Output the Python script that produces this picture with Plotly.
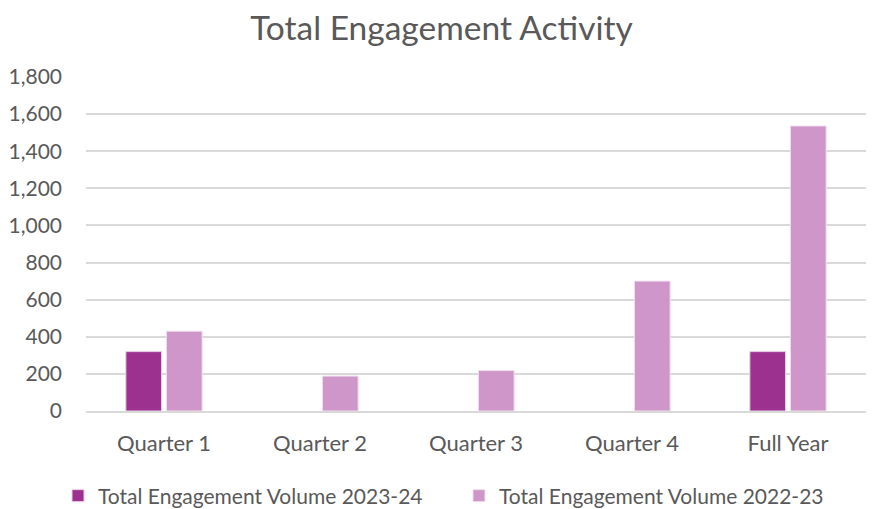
import plotly.graph_objects as go

categories = ["Quarter 1", "Quarter 2", "Quarter 3", "Quarter 4", "Full Year"]
vol_2023_24 = [320, None, None, None, 320]
vol_2022_23 = [430, 188, 218, 700, 1536]
series_names = ["Total Engagement Volume 2023-24", "Total Engagement Volume 2022-23"]
tick_vals = [0, 200, 400, 600, 800, 1000, 1200, 1400, 1600, 1800]

FONT = "Lato, Carlito, Calibri, sans-serif"
GREY = "#595959"

fig = go.Figure()
fig.add_trace(go.Bar(x=categories, y=vol_2023_24, name=series_names[0], legend="legend",
                     marker=dict(color="#9D3190", line=dict(color="#E9CFE6", width=1))))
fig.add_trace(go.Bar(x=categories, y=vol_2022_23, name=series_names[1], legend="legend2",
                     marker=dict(color="#CF97C9", line=dict(color="#F0DEEE", width=1))))

legend_style = dict(orientation="h", xref="container", yref="container",
                    xanchor="left", y=1 - 488 / 501, yanchor="middle",
                    font=dict(family=FONT, size=21, color=GREY), itemwidth=30)

fig.update_layout(
    width=867, height=501,
    paper_bgcolor="white", plot_bgcolor="white",
    margin=dict(l=78, r=9, t=69, b=98),
    title=dict(text="Total Engagement Activity", x=0.5, xanchor="center",
               y=1 - 20 / 501, yanchor="middle", automargin=False,
               font=dict(family=FONT, size=33.5, color=GREY)),
    barmode="group", bargap=0.48, bargroupgap=0.12,
    font=dict(family=FONT, color=GREY),
    legend=dict(legend_style, x=50 / 867),
    legend2=dict(legend_style, x=451 / 867),
    showlegend=True,
)
fig.update_yaxes(range=[0, 1800], tickvals=tick_vals, tickformat=",d",
                 showgrid=True, gridcolor="#D9D9D9", gridwidth=1.5,
                 zeroline=False, showline=False, ticks="", automargin=False,
                 ticklabelstandoff=23,
                 tickfont=dict(family=FONT, size=21, color=GREY))
fig.update_xaxes(showline=True, linecolor="#D9D9D9", linewidth=1.5, ticks="", automargin=False,
                 tickfont=dict(family=FONT, size=22, color=GREY), ticklabelstandoff=12)

fig.write_html("out.html")
